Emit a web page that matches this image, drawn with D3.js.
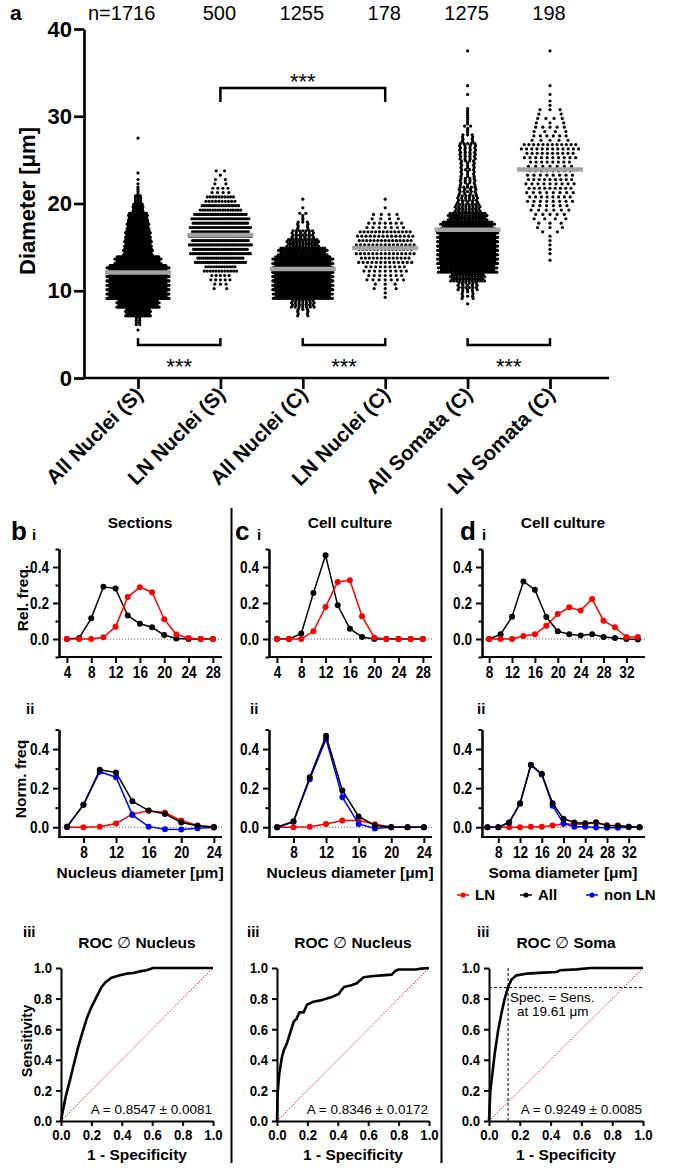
<!DOCTYPE html>
<html><head><meta charset="utf-8">
<script src="https://cdn.jsdelivr.net/npm/d3@7/dist/d3.min.js"></script>
<style>html,body{margin:0;padding:0;background:#fff}</style>
</head><body>
<svg id="fig" width="685" height="1170" xmlns="http://www.w3.org/2000/svg"></svg>
<script>
// ---------------- DATA ----------------
const groups = ["All Nuclei (S)","LN Nuclei (S)","All Nuclei (C)","LN Nuclei (C)","All Somata (C)","LN Somata (C)"];
const groupN = ["1716","500","1255","178","1275","198"];
const groupMean = [12.1,16.4,12.5,14.9,17.0,23.9];
const yTicksA = [0,10,20,30,40];
// diameter distribution per 1 µm bin: [bin lower edge, count]
const allNucleiS = [[5,1],[6,8],[7,70],[8,127],[9,232],[10,270],[11,259],[12,222],[13,140],[14,83],[15,76],[16,70],[17,60],[18,52],[19,25],[20,13],[21,4],[22,2],[23,1],[27,1]];
const lnNucleiS = [[10,5],[11,10],[12,24],[13,50],[14,67],[15,72],[16,72],[17,68],[18,62],[19,35],[20,20],[21,8],[22,4],[23,3]];
const allNucleiC = [[7,9],[8,28],[9,110],[10,208],[11,300],[12,280],[13,150],[14,83],[15,45],[16,26],[17,9],[18,5],[19,1],[20,1]];
const lnNucleiC = [[9,2],[10,6],[11,14],[12,18],[13,26],[14,30],[15,30],[16,28],[17,14],[18,8],[19,1],[20,1]];
const allSomataC = [[8,1],[9,10],[10,22],[11,50],[12,108],[13,180],[14,227],[15,190],[16,159],[17,96],[18,60],[19,32],[20,23],[21,18],[22,15],[23,13],[24,13],[25,16],[26,17],[27,9],[28,5],[29,4],[30,4],[32,1],[33,1],[37,1]];
const lnSomataC = [[13,1],[14,2],[15,2],[16,3],[17,6],[18,9],[19,12],[20,16],[21,17],[22,18],[23,16],[24,15],[25,20],[26,24],[27,11],[28,9],[29,7],[30,5],[31,2],[32,1],[33,1],[37,1]];

// histograms (relative / normalised frequency)
const bi_x   = [4,6,8,10,12,14,16,18,20,22,24,26,28];
const bi_all = [0,0.005,0.115,0.29,0.28,0.13,0.085,0.065,0.022,0.003,0,0,0];
const bi_ln  = [0,0,0,0.01,0.068,0.233,0.288,0.26,0.11,0.025,0.006,0,0];
const bii_x   = [6,8,10,12,14,16,18,20,22,24];
const bii_all = [0.003,0.115,0.294,0.28,0.133,0.085,0.068,0.024,0.007,0];
const bii_ln  = [0,0,0.003,0.019,0.067,0.084,0.075,0.034,0.009,0.002];
const bii_non = [0.003,0.115,0.284,0.256,0.063,0.003,-0.01,-0.012,-0.005,-0.002];
const ci_x   = [4,6,8,10,12,14,16,18,20,22,24,26,28];
const ci_all = [0,0,0.03,0.256,0.465,0.187,0.057,0.011,0,0,0,0,0];
const ci_ln  = [0,0,0,0.043,0.178,0.317,0.326,0.126,0.009,0,0,0,0];
const cii_x   = [6,8,10,12,14,16,18,20,22,24];
const cii_all = [0,0.029,0.256,0.468,0.188,0.055,0.009,0,0,0];
const cii_ln  = [0,0,0.003,0.017,0.034,0.034,0.015,0.001,0,0];
const cii_non = [0,0.029,0.246,0.451,0.154,0.017,-0.007,0,0,0];
const di_x   = [8,10,12,14,16,18,20,22,24,26,28,30,32,34];
const di_all = [0,0.026,0.124,0.32,0.274,0.122,0.043,0.026,0.02,0.026,0.011,0.006,0,-0.003];
const di_ln  = [0,0,0,0.017,0.026,0.074,0.139,0.176,0.159,0.222,0.102,0.065,0.011,0.011];
const dii_x   = [6,8,10,12,14,16,18,20,22,24,26,28,30,32,34];
const dii_all = [0,0,0.024,0.123,0.32,0.273,0.123,0.043,0.024,0.02,0.024,0.009,0.007,0.002,0];
const dii_ln  = [0,0,0,0,0.002,0.003,0.009,0.017,0.017,0.015,0.026,0.009,0.009,0.002,0];
const dii_non = [0,0,0.024,0.12,0.318,0.27,0.11,0.02,0.003,0.002,-0.002,-0.003,-0.003,0,0];

// ROC curves
const rocB_fpr = [0,0.009,0.031,0.059,0.092,0.114,0.142,0.173,0.201,0.234,0.267,0.295,0.333,0.387,0.431,0.475,0.519,0.562,0.606,1];
const rocB_tpr = [0,0.05,0.159,0.267,0.4,0.487,0.583,0.68,0.746,0.811,0.876,0.909,0.937,0.952,0.963,0.967,0.978,0.985,1,1];
const rocC_fpr = [0,0.004,0.015,0.033,0.044,0.066,0.088,0.11,0.13,0.147,0.175,0.197,0.24,0.295,0.36,0.405,0.44,0.49,0.525,0.57,0.62,0.69,0.755,0.777,0.8,0.91,0.95,1];
const rocC_tpr = [0,0.18,0.31,0.42,0.46,0.51,0.58,0.65,0.67,0.71,0.71,0.76,0.78,0.79,0.81,0.83,0.876,0.887,0.9,0.94,0.946,0.952,0.957,0.98,0.99,0.99,0.996,1];
const rocD_fpr = [0,0.009,0.022,0.037,0.059,0.08,0.102,0.124,0.146,0.178,0.243,0.352,0.439,0.461,0.57,0.657,1];
const rocD_tpr = [0,0.2,0.31,0.44,0.59,0.7,0.8,0.876,0.924,0.952,0.963,0.97,0.974,0.985,0.991,1,1];
const rocTicks = [0,0.2,0.4,0.6,0.8,1.0];
const specSens = {fpr:0.124, tpr:0.872};

// ---------------- HELPERS ----------------
const FONT = '"Liberation Sans", Arial, Helvetica, sans-serif';
const svg = d3.select("#fig");
svg.append("rect").attr("width",685).attr("height",1170).attr("fill","#fff");

function txt(sel, x, y, s, o = {}) {
  const sx = o.sx || 1, rot = o.rotate || 0;
  return sel.append("text").attr("x", 0).attr("y", 0).text(s)
    .attr("font-family", FONT).attr("font-size", o.size || 14)
    .attr("font-weight", o.weight || "bold").attr("fill", o.fill || "#000")
    .attr("text-anchor", o.anchor || "start")
    .attr("transform", `translate(${x},${y}) rotate(${rot}) scale(${sx},1)`);
}
function styleAxis(g, o) {
  g.select(".domain").attr("stroke", "#000").attr("stroke-width", o.sw);
  g.selectAll(".tick line").attr("stroke", "#000").attr("stroke-width", o.sw);
  g.selectAll(".tick text").attr("font-family", FONT).attr("font-weight", "bold")
    .attr("font-size", o.fs).attr("fill", "#000");
}

// ---------------- PANEL A ----------------
const aX = d3.scalePoint().domain(groups).range([138, 550]);
const aY = d3.scaleLinear().domain([0, 40]).range([378, 29]);
const aAxisX0 = 84, aAxisX1 = 609;
const A = svg.append("g");

// swarm layout from binned counts: row width grows with bin count
const swarmCfg = [
  {bins: allNucleiS, rows: 4, a: 0.54, p: 0.9, maxW: 62},
  {bins: lnNucleiS,  rows: 2, a: 4.8,  p: 0.6, maxW: 62},
  {bins: allNucleiC, rows: 4, a: 2.2,  p: 0.7, maxW: 60},
  {bins: lnNucleiC,  rows: 2, a: 7.5,  p: 0.6, maxW: 58},
  {bins: allSomataC, rows: 4, a: 2.2,  p: 0.7, maxW: 60},
  {bins: lnSomataC,  rows: 2, a: 8.5,  p: 0.6, maxW: 58}
];
swarmCfg.forEach((cfg, gi) => {
  const cx = aX(groups[gi]);
  const pts = [];
  cfg.bins.forEach(([lo, c]) => {
    const R = Math.min(cfg.rows, c);
    const w = Math.min(cfg.maxW, cfg.a * Math.pow(c, cfg.p));
    for (let r = 0; r < R; r++) {
      const m = Math.floor(c * (r + 1) / R) - Math.floor(c * r / R);
      if (!m) continue;
      const v = lo + (r + 0.5) / R;
      const ww = m > 1 ? w * (r % 2 ? 0.9 : 1) : 0;
      const sp = m > 1 ? ww / (m - 1) : 0;
      for (let i = 0; i < m; i++) pts.push({v, dx: -ww / 2 + i * sp});
    }
  });
  A.append("g").selectAll("circle").data(pts).join("circle")
    .attr("cx", d => cx + d.dx).attr("cy", d => aY(d.v)).attr("r", 1.6).attr("fill", "#000");
});
// mean bars
A.append("g").selectAll("line").data(groups).join("line")
  .attr("x1", d => aX(d) - 33).attr("x2", d => aX(d) + 33)
  .attr("y1", (d, i) => aY(groupMean[i])).attr("y2", (d, i) => aY(groupMean[i]))
  .attr("stroke", "#a3a3a3").attr("stroke-width", 4.5);

// axes
const aYAxis = A.append("g").attr("transform", `translate(${aAxisX0},0)`)
  .call(d3.axisLeft(aY).tickValues(yTicksA).tickSize(10).tickSizeOuter(0).tickPadding(2));
styleAxis(aYAxis, {sw: 2.7, fs: 22});
A.append("line").attr("x1", aAxisX0 - 1.3).attr("x2", aAxisX1).attr("y1", aY(0)).attr("y2", aY(0))
  .attr("stroke", "#000").attr("stroke-width", 2.7);
const aXAxis = A.append("g").attr("transform", `translate(0,${aY(0)})`)
  .call(d3.axisBottom(aX).tickSize(11).tickSizeOuter(0).tickFormat(""));
aXAxis.select(".domain").remove();
aXAxis.selectAll(".tick line").attr("stroke", "#000").attr("stroke-width", 2.7);
groups.forEach(g => txt(A, aX(g) + 6, aY(0) + 18, g, {size: 20.5, anchor: "end", rotate: -45}));

txt(A, 35, 201, "Diameter [μm]", {size: 22, anchor: "middle", rotate: -90});
txt(A, 10, 20, "a", {size: 21});
groupN.forEach((n, i) => {
  const cx = aX(groups[i]);
  if (i === 0) txt(A, aAxisX0 + 4, 20, "n=" + n, {size: 20, weight: "normal", anchor: "start"});
  else txt(A, cx - 1, 20, n, {size: 20, weight: "normal", anchor: "middle"});
});
// significance brackets
function bracket(i1, i2, yLine, yLeg, yStar) {
  const x1 = aX(groups[i1]), x2 = aX(groups[i2]);
  A.append("path").attr("d", `M${x1},${yLeg}V${yLine}H${x2}V${yLeg}`)
    .attr("fill", "none").attr("stroke", "#000").attr("stroke-width", 2.5);
  txt(A, (x1 + x2) / 2, yStar, "***", {size: 22, weight: "normal", anchor: "middle"});
}
bracket(1, 3, 88, 102, 89);
bracket(0, 1, 345, 338, 374);
bracket(2, 3, 345, 338, 374);
bracket(4, 5, 345, 338, 374);

// ---------------- PANELS B/C/D ----------------
const TSX = 0.85;
function histPanel(cfg) {
  const x = d3.scaleLinear().domain(cfg.xDom).range(cfg.xRange);
  const y = d3.scaleLinear().domain(cfg.yDom).range(cfg.yRange);
  const g = svg.append("g");
  g.append("line").attr("x1", cfg.xRange[0]).attr("x2", cfg.xRange[1])
    .attr("y1", y(0)).attr("y2", y(0)).attr("stroke", "#666")
    .attr("stroke-width", 1.2).attr("stroke-dasharray", "1.2,1.8");
  const ya = g.append("g").attr("transform", `translate(${cfg.xRange[0]},0)`)
    .call(d3.axisLeft(y).tickValues(cfg.yMinor).tickSize(3.5).tickFormat("").tickSizeOuter(0));
  styleAxis(ya, {sw: 2, fs: 16});
  const ya2 = g.append("g").attr("transform", `translate(${cfg.xRange[0]},0)`)
    .call(d3.axisLeft(y).tickValues([0, 0.2, 0.4]).tickSize(6).tickFormat(d3.format(".1f")).tickSizeOuter(0).tickPadding(4));
  styleAxis(ya2, {sw: 2, fs: 16});
  ya2.selectAll(".tick text").attr("x", -10 / TSX).attr("transform", `scale(${TSX},1)`);
  const xa = g.append("g").attr("transform", `translate(0,${cfg.yRange[0]})`)
    .call(d3.axisBottom(x).tickValues(cfg.xTicks).tickSize(6).tickSizeOuter(0).tickPadding(4).tickFormat(d3.format("d")));
  styleAxis(xa, {sw: 2, fs: 16});
  xa.selectAll(".tick text").attr("transform", `scale(${TSX},1)`);
  xa.select(".domain").attr("d", `M${cfg.xRange[0] - 1},0H${cfg.xRange[1]}`);
  const line = d3.line().x(d => x(d[0])).y(d => y(d[1]));
  cfg.series.forEach(s => {
    const data = d3.zip(cfg.xs, s.v);
    g.append("path").datum(data).attr("d", line).attr("fill", "none")
      .attr("stroke", s.color).attr("stroke-width", 1.5);
    g.append("g").selectAll("circle").data(data).join("circle")
      .attr("cx", d => x(d[0])).attr("cy", d => y(d[1])).attr("r", 3).attr("fill", s.color);
  });
  return {x, y, g};
}
const RED = "#ff0000", BLUE = "#0000ff", BLK = "#000000";
const yI = {yDom: [-0.1, 0.5], yRange: [657, 549], yMinor: [-0.1, 0.1, 0.3, 0.5]};
const yII = {yDom: [-0.05, 0.5], yRange: [837, 729.5], yMinor: [0.1, 0.3, 0.5]};

histPanel({...yI, xDom: [2.7, 29.5], xRange: [59, 222], xTicks: [4,8,12,16,20,24,28], xs: bi_x,
  series: [{v: bi_all, color: BLK}, {v: bi_ln, color: RED}]});
histPanel({...yII, xDom: [5, 25], xRange: [59, 222], xTicks: [8,12,16,20,24], xs: bii_x,
  series: [{v: bii_ln, color: RED}, {v: bii_non, color: BLUE}, {v: bii_all, color: BLK}]});
histPanel({...yI, xDom: [2.7, 29.5], xRange: [269, 432], xTicks: [4,8,12,16,20,24,28], xs: ci_x,
  series: [{v: ci_all, color: BLK}, {v: ci_ln, color: RED}]});
histPanel({...yII, xDom: [5, 25], xRange: [269, 432], xTicks: [8,12,16,20,24], xs: cii_x,
  series: [{v: cii_ln, color: RED}, {v: cii_non, color: BLUE}, {v: cii_all, color: BLK}]});
histPanel({...yI, xDom: [6.75, 35.25], xRange: [482, 645], xTicks: [8,12,16,20,24,28,32], xs: di_x,
  series: [{v: di_all, color: BLK}, {v: di_ln, color: RED}]});
histPanel({...yII, xDom: [5, 35], xRange: [482, 645], xTicks: [8,12,16,20,24,28,32], xs: dii_x,
  series: [{v: dii_ln, color: RED}, {v: dii_non, color: BLUE}, {v: dii_all, color: BLK}]});

function rocPanel(cfg) {
  const x = d3.scaleLinear().domain([0, 1]).range(cfg.xRange);
  const y = d3.scaleLinear().domain([0, 1]).range([1121, 968]);
  const g = svg.append("g");
  g.append("line").attr("x1", x(0)).attr("y1", y(0)).attr("x2", x(1)).attr("y2", y(1))
    .attr("stroke", RED).attr("stroke-width", 1).attr("stroke-dasharray", "1.2,1.6");
  if (cfg.cross) {
    g.append("line").attr("x1", x(cfg.cross.fpr)).attr("x2", x(cfg.cross.fpr)).attr("y1", y(0)).attr("y2", y(1))
      .attr("stroke", "#000").attr("stroke-width", 1).attr("stroke-dasharray", "3,2");
    g.append("line").attr("x1", x(0)).attr("x2", x(1)).attr("y1", y(cfg.cross.tpr)).attr("y2", y(cfg.cross.tpr))
      .attr("stroke", "#000").attr("stroke-width", 1).attr("stroke-dasharray", "3,2");
  }
  g.append("path").datum(d3.zip(cfg.fpr, cfg.tpr))
    .attr("d", d3.line().x(d => x(d[0])).y(d => y(d[1])))
    .attr("fill", "none").attr("stroke", "#000").attr("stroke-width", 2.6).attr("stroke-linejoin", "round");
  const ya = g.append("g").attr("transform", `translate(${cfg.xRange[0]},0)`)
    .call(d3.axisLeft(y).tickValues(rocTicks).tickSize(5).tickFormat(d3.format(".1f")).tickSizeOuter(0));
  styleAxis(ya, {sw: 2, fs: 15.5});
  ya.selectAll(".tick text").attr("x", -9 / TSX).attr("transform", `scale(${TSX},1)`);
  const xa = g.append("g").attr("transform", `translate(0,1121)`)
    .call(d3.axisBottom(x).tickValues(rocTicks).tickSize(5).tickFormat(d3.format(".1f")).tickSizeOuter(0).tickPadding(3.5));
  styleAxis(xa, {sw: 2, fs: 15.5});
  xa.selectAll(".tick text").attr("transform", `scale(${TSX},1)`);
  txt(g, cfg.xRange[1] - 1, 1114, cfg.auc, {size: 13.5, weight: "normal", anchor: "end"});
  return {x, y, g};
}
rocPanel({xRange: [61, 213], fpr: rocB_fpr, tpr: rocB_tpr, auc: "A = 0.8547 ± 0.0081"});
rocPanel({xRange: [277, 429], fpr: rocC_fpr, tpr: rocC_tpr, auc: "A = 0.8346 ± 0.0172"});
const rd = rocPanel({xRange: [489, 643], fpr: rocD_fpr, tpr: rocD_tpr, auc: "A = 0.9249 ± 0.0085", cross: specSens});
txt(rd.g, 510, 1002, "Spec. = Sens.", {size: 13.5, weight: "normal"});
txt(rd.g, 517, 1016, "at 19.61 μm", {size: 13.5, weight: "normal"});

// labels & titles
const L = svg.append("g");
[[11, 32, "b", 140, "Sections"], [235, 257, "c", 350, "Cell culture"], [460, 482, "d", 563, "Cell culture"]]
  .forEach(([xl, xi, lab, xt, title]) => {
    txt(L, xl, 540, lab, {size: 26});
    txt(L, xi, 540, "i", {size: 15});
    txt(L, xt, 528, title, {size: 15.5, anchor: "middle"});
  });
function rocTitle(x, word) {
  const t = txt(L, x, 948, "", {size: 15.5, anchor: "middle"});
  t.append("tspan").text("ROC ");
  t.append("tspan").attr("font-weight", "normal").text("∅");
  t.append("tspan").text(" " + word);
}
[[26, 23, 140, "Nucleus diameter [μm]", 137, "Nucleus"], [250, 247, 350, "Nucleus diameter [μm]", 353, "Nucleus"], [477, 477, 563, "Soma diameter [μm]", 566, "Soma"]]
  .forEach(([xii, xiii, xlab, lab, xroc, word]) => {
    txt(L, xii, 714, "ii", {size: 15});
    txt(L, xlab, 878, lab, {size: 15.5, anchor: "middle"});
    txt(L, xiii, 937, "iii", {size: 15});
    rocTitle(xroc, word);
    txt(L, xroc, 1160, "1 - Specificity", {size: 15.5, anchor: "middle"});
  });
txt(L, 27.5, 598, "Rel. freq.", {size: 15.5, anchor: "middle", rotate: -90});
txt(L, 25.5, 779, "Norm. freq", {size: 15.5, anchor: "middle", rotate: -90});
txt(L, 32, 1041, "Sensitivity", {size: 14.5, anchor: "middle", rotate: -90});

// legend
const legendItems = [["LN", RED, 457], ["All", BLK, 520], ["non LN", BLUE, 586]];
legendItems.forEach(([lab, col, x0]) => {
  L.append("line").attr("x1", x0).attr("x2", x0 + 12).attr("y1", 895).attr("y2", 895).attr("stroke", col).attr("stroke-width", 1.5);
  L.append("circle").attr("cx", x0 + 6).attr("cy", 895).attr("r", 2.6).attr("fill", col);
  txt(L, x0 + 18, 900, lab, {size: 15});
});

// panel separators
[231.5, 441.5].forEach(xs => L.append("line").attr("x1", xs).attr("x2", xs).attr("y1", 508).attr("y2", 1163)
  .attr("stroke", "#000").attr("stroke-width", 2));
</script>
</body></html>
